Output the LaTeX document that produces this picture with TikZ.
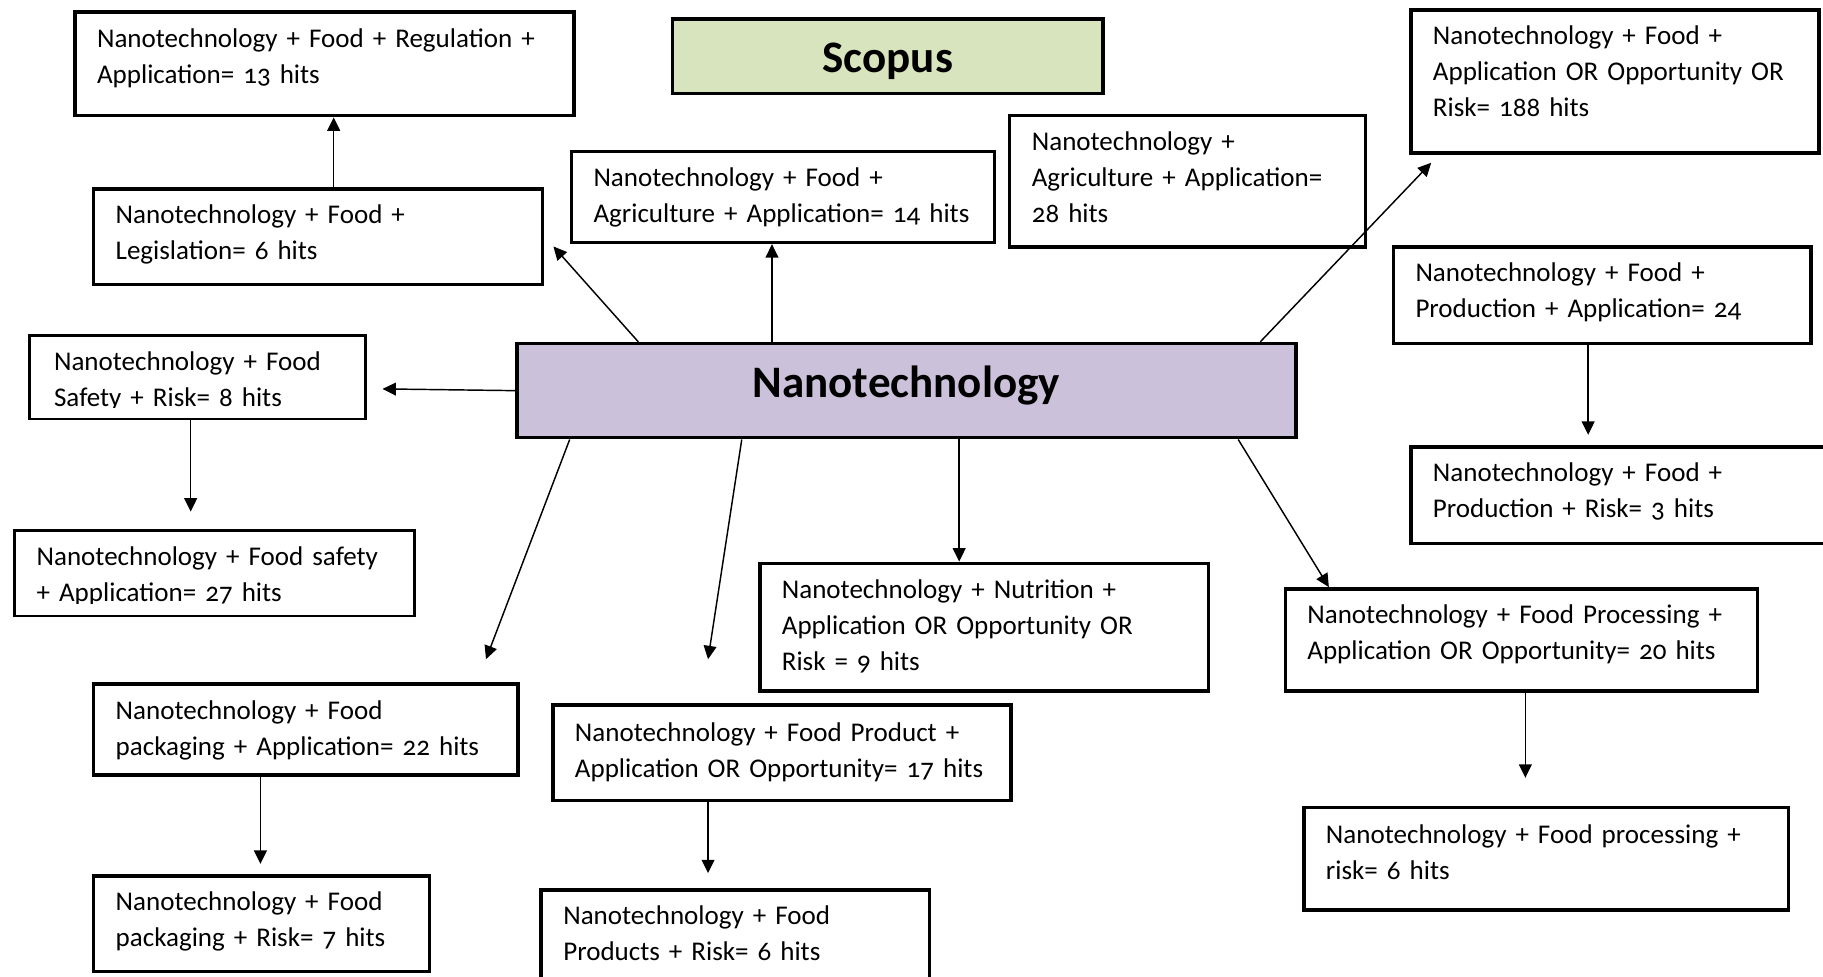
\documentclass[tikz,border=0pt]{standalone}
\usepackage{fontspec}
\setmainfont{Carlito}[Numbers=OldStyle]
\usepackage{tikz}
\usetikzlibrary{arrows.meta}

\definecolor{scopusgreen}{HTML}{D7E4BD}
\definecolor{nanopurple}{HTML}{CCC1DA}

\begin{document}
\begin{tikzpicture}[x=0.4pt, y=-0.4pt]
  \tikzset{hitedge/.style={-{Triangle[length=4.6pt, width=4.4pt]}, line width=0.5pt}};
  \tikzset{hitbox/.style={draw=black, line width=1.2pt, anchor=north west, align=left,
      inner xsep=7.6pt, inner ysep=0pt, text height=12pt, font=\fontsize{9.3pt}{12.4pt}\selectfont}};
  \tikzset{headbox/.style={draw=black, line width=1.2pt, anchor=north west, inner sep=0pt,
      font=\fontsize{15.5pt}{18pt}\selectfont\bfseries}};
  \useasboundingbox (0,0) rectangle (1568,840);

  \node[headbox, fill=scopusgreen, minimum width=148pt, text height=18.2pt, text depth=7.4pt] (scopus) at (577,15) {Scopus};
  \node[headbox, fill=nanopurple, minimum width=268pt, text height=18.4pt, text depth=14pt] (nano) at (443,294) {Nanotechnology};

  \node[hitbox, text width=156.4pt, text depth=23.6pt] (regapp) at (63,9) {Nanotechnology + Food + Regulation +\\ Application= 13 hits};
  \node[hitbox, text width=139.2pt, text depth=20.8pt] (legis) at (79,161) {Nanotechnology + Food +\\ Legislation= 6 hits};
  \node[hitbox, text width=130.4pt, text depth=19.2pt] (foodagri) at (490,129) {Nanotechnology + Food +\\ Agriculture + Application= 14 hits};
  \node[hitbox, text width=107.2pt, text depth=33.2pt] (agri) at (867,98) {Nanotechnology +\\ Agriculture + Application=\\ 28 hits};
  \node[hitbox, text width=125.2pt, text depth=37.2pt] (risk) at (1212,7) {Nanotechnology + Food +\\ Application OR Opportunity OR\\ Risk= 188 hits};
  \node[hitbox, text width=128.4pt, text depth=21.2pt] (prodapp) at (1197,211) {Nanotechnology + Food +\\ Production + Application= 24};
  \node[hitbox, text width=144.8pt, text depth=21.2pt] (prodrisk) at (1212,383) {Nanotechnology + Food +\\ Production + Risk= 3 hits};
  \node[hitbox, text width=98.8pt, text depth=16.4pt, inner xsep=8.4pt] (safety) at (24,287) {Nanotechnology + Food\\ Safety + Risk= 8 hits};
  \node[hitbox, text width=122.4pt, text depth=17.2pt] (safetyapp) at (11,455) {Nanotechnology + Food safety\\ + Application= 27 hits};
  \node[hitbox, text width=139.2pt, text depth=32pt] (nutri) at (652,483) {Nanotechnology + Nutrition +\\ Application OR Opportunity OR\\ Risk = 9 hits};
  \node[hitbox, text width=147.2pt, text depth=23.2pt] (procapp) at (1104,505) {Nanotechnology + Food Processing +\\ Application OR Opportunity= 20 hits};
  \node[hitbox, text width=151.6pt, text height=12.4pt, text depth=22.8pt] (procrisk) at (1120,693) {Nanotechnology + Food processing +\\ risk= 6 hits};
  \node[hitbox, text width=130.8pt, text depth=19.2pt] (packapp) at (79,587) {Nanotechnology + Food\\ packaging + Application= 22 hits};
  \node[hitbox, text width=100.4pt, text depth=20.8pt] (packrisk) at (79,752) {Nanotechnology + Food\\ packaging + Risk= 7 hits};
  \node[hitbox, text width=142.4pt, text height=12.4pt, text depth=20.4pt] (prodfood) at (474,605) {Nanotechnology + Food Product +\\ Application OR Opportunity= 17 hits};
  \node[hitbox, text width=118.4pt, text depth=18.8pt] (foodrisk) at (464,764) {Nanotechnology + Food\\ Products + Risk= 6 hits};

  % text cut off at the foot of these two boxes
  \fill[white] ([xshift=1pt, yshift=0.7pt]safety.south west) rectangle ([xshift=-1pt, yshift=4pt]safety.south east);
  \fill[white] ([xshift=1pt, yshift=0.7pt]safetyapp.south west) rectangle ([xshift=-1pt, yshift=4.6pt]safetyapp.south east);

  % free arrow ends
  \coordinate (eLegis) at (476,212);
  \coordinate (eRisk) at (1231,140);
  \coordinate (eSafety) at (329,334.5);
  \coordinate (eSafetyApp) at (164,440);
  \coordinate (ePackApp) at (418,567);
  \coordinate (eProdFood) at (609,567);
  \coordinate (eProdRisk) at (1366,374);
  \coordinate (eProcRisk) at (1312,669);
  \coordinate (ePackRisk) at (224,743);
  \coordinate (eFoodRisk) at (609,751);

  \draw[hitedge] (legis.north -| 287,0) -- (regapp.south -| 287,0);
  \draw[hitedge] (nano.north -| 549,0) -- (eLegis);
  \draw[hitedge] (nano.north -| 664,0) -- (foodagri.south -| 664,0);
  \draw[hitedge] (nano.north -| 1084,0) -- (eRisk);
  \draw[hitedge] (nano.west) -- (eSafety);
  \draw[hitedge] (safety.south -| 164,0) -- (eSafetyApp);
  \draw[hitedge] (nano.south -| 490,0) -- (ePackApp);
  \draw[hitedge] (nano.south -| 638,0) -- (eProdFood);
  \draw[hitedge] (nano.south -| 825,0) -- (nutri.north -| 825,0);
  \draw[hitedge] (nano.south -| 1065,0) -- (procapp.north -| 1143,0);
  \draw[hitedge] (prodapp.south -| 1366,0) -- (eProdRisk);
  \draw[hitedge] (procapp.south -| 1312,0) -- (eProcRisk);
  \draw[hitedge] (packapp.south -| 224,0) -- (ePackRisk);
  \draw[hitedge] (prodfood.south -| 609,0) -- (eFoodRisk);
\end{tikzpicture}
\end{document}
